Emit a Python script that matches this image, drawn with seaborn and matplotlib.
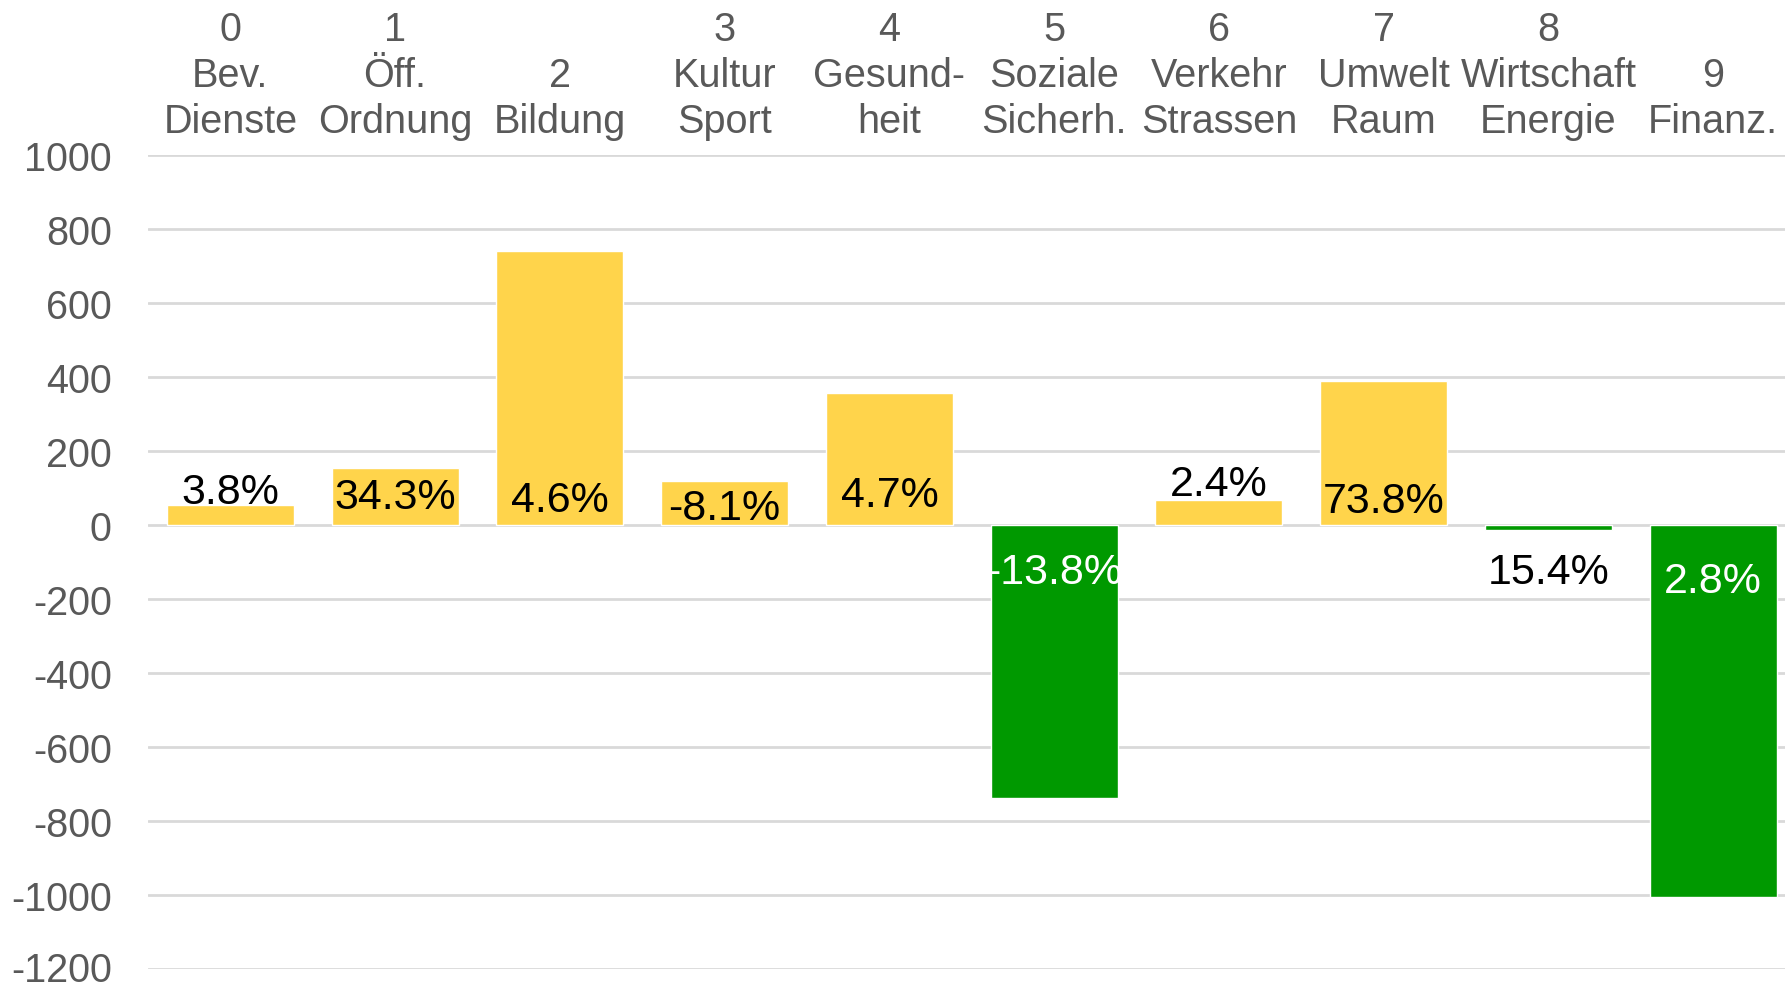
import matplotlib
matplotlib.use("Agg")
import matplotlib.pyplot as plt
import matplotlib.transforms as mtransforms
import seaborn as sns
import pandas as pd

categories = ["0\nBev.\nDienste", "1\nÖff.\nOrdnung", "2\nBildung", "3\nKultur\nSport",
              "4\nGesund-\nheit", "5\nSoziale\nSicherh.", "6\nVerkehr\nStrassen",
              "7\nUmwelt\nRaum", "8\nWirtschaft\nEnergie", "9\nFinanz."]
values = [55, 155, 741, 120, 358, -739, 68, 390, -14, -1006]
pct_labels = ["3.8%", "34.3%", "4.6%", "-8.1%", "4.7%", "-13.8%", "2.4%", "73.8%", "15.4%", "2.8%"]

yellow = "#FFD44B"
green = "#009900"

df = pd.DataFrame({"cat": categories, "value": values})
colors = [yellow if v >= 0 else green for v in values]

sns.set_style("white")
plt.rcParams["font.family"] = ["Liberation Sans", "DejaVu Sans"]
plt.rcParams["axes.unicode_minus"] = False

fig = plt.figure(figsize=(17.85, 9.87), dpi=100)
ax = fig.add_axes([0.0829, 0.0172, 0.923, 0.8247])

sns.barplot(data=df, x="cat", y="value", hue="cat", palette=colors,
            width=0.77, legend=False, saturation=1, ax=ax, zorder=3)

ax.set_xlim(-0.5, 9.5)
ax.set_ylim(-1200, 1000)
ax.set_yticks(range(-1200, 1001, 200))
ax.yaxis.grid(True, color="#d9d9d9", linewidth=2, zorder=0)
ax.set_axisbelow(True)
for s in ax.spines.values():
    s.set_visible(False)

ax.xaxis.tick_top()
ax.tick_params(axis="x", length=0, pad=11, labelsize=28.5, labelcolor="#595959")
ax.tick_params(axis="y", length=0, pad=26, labelsize=28.5, labelcolor="#595959")
for t in ax.get_xticklabels():
    t.set_linespacing(1.27)
ax.set_xlabel("")
ax.set_ylabel("")

# keep the lowest tick label inside the figure
low = ax.get_yticklabels()[0]
low.set_transform(low.get_transform() + mtransforms.ScaledTranslation(0, 3 / 100, fig.dpi_scale_trans))

# data label heights (data units), roughly as placed in the original
label_y = [89, 77, 68, 46, 80, -126, 111, 65, -126, -151]
for i, (v, lab) in enumerate(zip(values, pct_labels)):
    col = "white" if (v < 0 and i != 8) else "black"
    ax.text(i, label_y[i], lab, ha="center", va="center", fontsize=31, color=col, zorder=5)

fig.savefig("out.png", dpi=100)
